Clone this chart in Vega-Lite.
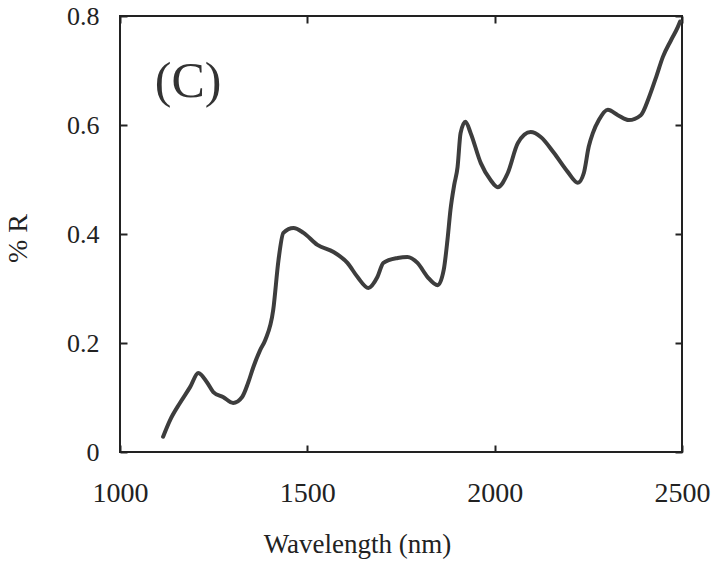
{
  "$schema": "https://vega.github.io/schema/vega-lite/v6.json",
  "width": 562,
  "height": 436,
  "autosize": {"type": "none"},
  "padding": {"left": 120, "top": 16, "right": 39, "bottom": 111},
  "background": "white",
  "datasets": {
    "spectrum": [
      {"wavelength": 1115, "reflectance": 0.028},
      {"wavelength": 1134, "reflectance": 0.059},
      {"wavelength": 1160, "reflectance": 0.090},
      {"wavelength": 1187, "reflectance": 0.119},
      {"wavelength": 1209, "reflectance": 0.145},
      {"wavelength": 1233, "reflectance": 0.127},
      {"wavelength": 1249, "reflectance": 0.110},
      {"wavelength": 1275, "reflectance": 0.101},
      {"wavelength": 1302, "reflectance": 0.090},
      {"wavelength": 1326, "reflectance": 0.101},
      {"wavelength": 1342, "reflectance": 0.127},
      {"wavelength": 1356, "reflectance": 0.156},
      {"wavelength": 1374, "reflectance": 0.187},
      {"wavelength": 1388, "reflectance": 0.206},
      {"wavelength": 1409, "reflectance": 0.261},
      {"wavelength": 1423, "reflectance": 0.352},
      {"wavelength": 1436, "reflectance": 0.402},
      {"wavelength": 1463, "reflectance": 0.411},
      {"wavelength": 1490, "reflectance": 0.402},
      {"wavelength": 1527, "reflectance": 0.380},
      {"wavelength": 1570, "reflectance": 0.367},
      {"wavelength": 1607, "reflectance": 0.347},
      {"wavelength": 1634, "reflectance": 0.321},
      {"wavelength": 1663, "reflectance": 0.301},
      {"wavelength": 1687, "reflectance": 0.321},
      {"wavelength": 1703, "reflectance": 0.347},
      {"wavelength": 1741, "reflectance": 0.356},
      {"wavelength": 1767, "reflectance": 0.358},
      {"wavelength": 1794, "reflectance": 0.347},
      {"wavelength": 1821, "reflectance": 0.321},
      {"wavelength": 1848, "reflectance": 0.306},
      {"wavelength": 1864, "reflectance": 0.334},
      {"wavelength": 1874, "reflectance": 0.389},
      {"wavelength": 1882, "reflectance": 0.444},
      {"wavelength": 1892, "reflectance": 0.490},
      {"wavelength": 1901, "reflectance": 0.523},
      {"wavelength": 1909, "reflectance": 0.585},
      {"wavelength": 1922, "reflectance": 0.606},
      {"wavelength": 1936, "reflectance": 0.585},
      {"wavelength": 1963, "reflectance": 0.530},
      {"wavelength": 1989, "reflectance": 0.499},
      {"wavelength": 2008, "reflectance": 0.486},
      {"wavelength": 2035, "reflectance": 0.512},
      {"wavelength": 2062, "reflectance": 0.567},
      {"wavelength": 2096, "reflectance": 0.587},
      {"wavelength": 2123, "reflectance": 0.578},
      {"wavelength": 2158, "reflectance": 0.549},
      {"wavelength": 2195, "reflectance": 0.514},
      {"wavelength": 2222, "reflectance": 0.494},
      {"wavelength": 2238, "reflectance": 0.512},
      {"wavelength": 2251, "reflectance": 0.560},
      {"wavelength": 2262, "reflectance": 0.585},
      {"wavelength": 2278, "reflectance": 0.609},
      {"wavelength": 2302, "reflectance": 0.628},
      {"wavelength": 2329, "reflectance": 0.618},
      {"wavelength": 2358, "reflectance": 0.609},
      {"wavelength": 2390, "reflectance": 0.618},
      {"wavelength": 2412, "reflectance": 0.651},
      {"wavelength": 2431, "reflectance": 0.688},
      {"wavelength": 2449, "reflectance": 0.725},
      {"wavelength": 2471, "reflectance": 0.756},
      {"wavelength": 2489, "reflectance": 0.780},
      {"wavelength": 2495, "reflectance": 0.790}
    ],
    "panel": [
      {"label": "(C)", "wavelength": 1182, "reflectance": 0.651}
    ]
  },
  "config": {
    "view": {"stroke": "#222222", "strokeWidth": 2},
    "font": "Liberation Serif",
    "axis": {
      "grid": false,
      "domain": false,
      "offset": -7,
      "tickSize": 7,
      "tickColor": "#222222",
      "tickWidth": 2,
      "labelColor": "#222222",
      "titleColor": "#222222",
      "labelFont": "Liberation Serif",
      "titleFont": "Liberation Serif",
      "labelFontWeight": "normal",
      "titleFontWeight": "normal"
    }
  },
  "resolve": {"axis": {"x": "independent", "y": "independent"}},
  "layer": [
    {
      "data": {"name": "spectrum"},
      "mark": {"type": "line", "interpolate": "monotone", "color": "#3d3d3d", "strokeWidth": 4, "strokeCap": "round", "strokeJoin": "round"},
      "encoding": {
        "x": {
          "field": "wavelength",
          "type": "quantitative",
          "scale": {"domain": [1000, 2500], "nice": false, "zero": false},
          "axis": {
            "orient": "bottom",
            "values": [1000, 1500, 2000, 2500],
            "format": "d",
            "labelFontSize": 28,
            "labelPadding": 27,
            "labelBaseline": "top",
            "labelFlush": false,
            "labelOverlap": false,
            "title": "Wavelength (nm)",
            "titleFontSize": 27,
            "titleX": 237,
            "titleY": 107,
            "titleAlign": "center",
            "titleBaseline": "alphabetic",
            "titleAnchor": null
          }
        },
        "y": {
          "field": "reflectance",
          "type": "quantitative",
          "scale": {"domain": [0, 0.8], "nice": false},
          "axis": {
            "orient": "left",
            "values": [0, 0.2, 0.4, 0.6, 0.8],
            "labelExpr": "datum.value == 0 ? '0' : format(datum.value, '.1f')",
            "labelFontSize": 26,
            "labelPadding": 21,
            "labelFlush": false,
            "labelOverlap": false,
            "title": "% R",
            "titleFontSize": 28,
            "titleAngle": 270,
            "titleX": -109,
            "titleY": 222,
            "titleAlign": "center",
            "titleBaseline": "middle",
            "titleAnchor": null
          }
        }
      }
    },
    {
      "data": {"name": "spectrum"},
      "mark": {"type": "line", "opacity": 0},
      "encoding": {
        "x": {
          "field": "wavelength",
          "type": "quantitative",
          "axis": {"orient": "top", "values": [1000, 1500, 2000, 2500], "labels": false, "title": null}
        },
        "y": {
          "field": "reflectance",
          "type": "quantitative",
          "axis": {"orient": "right", "values": [0, 0.2, 0.4, 0.6, 0.8], "labels": false, "title": null}
        }
      }
    },
    {
      "data": {"name": "panel"},
      "mark": {"type": "text", "fontSize": 50, "font": "Liberation Serif", "color": "#333333", "align": "center", "baseline": "alphabetic"},
      "encoding": {
        "x": {"field": "wavelength", "type": "quantitative", "axis": null},
        "y": {"field": "reflectance", "type": "quantitative", "axis": null},
        "text": {"field": "label"}
      }
    }
  ]
}
